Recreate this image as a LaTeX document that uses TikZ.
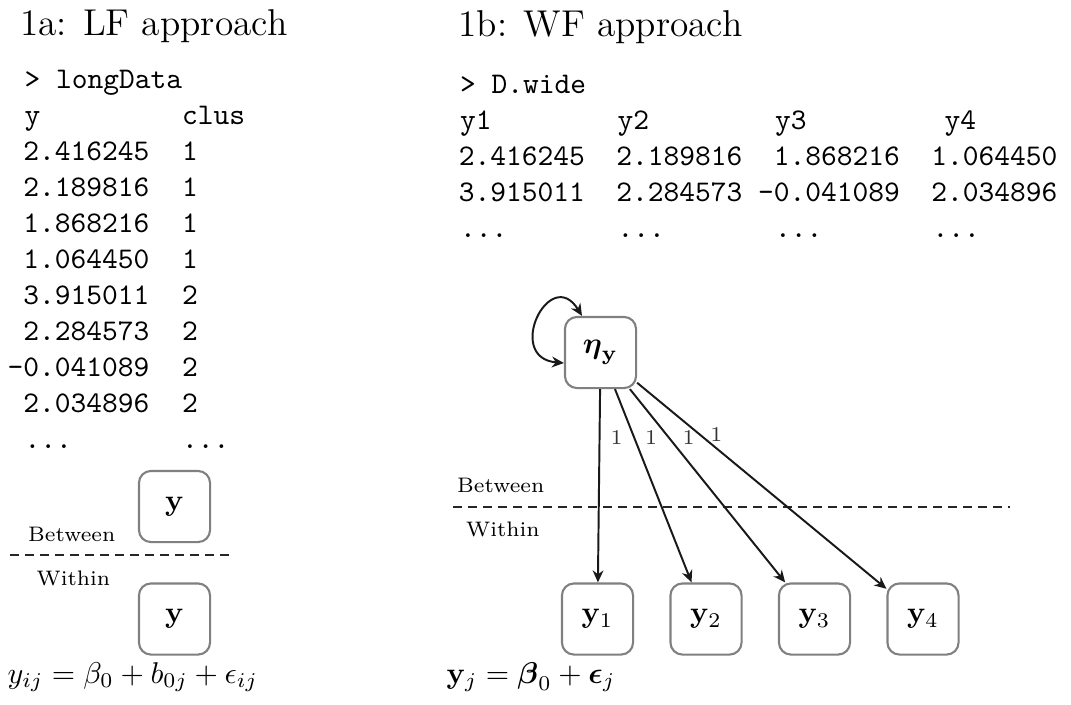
\documentclass[tikz,border=0pt]{standalone}
\usepackage{amsmath}
\usetikzlibrary{arrows.meta,calc}
\tikzset{
  box/.style={draw=black!50, line width=0.7pt, rounded corners=4pt, minimum width=23.7pt, minimum height=23.7pt, inner sep=0pt, fill=white},
  tt/.style={anchor=base west, inner sep=0pt, font=\ttfamily},
  ttr/.style={anchor=base east, inner sep=0pt, font=\ttfamily},
  ttitle/.style={anchor=base west, inner sep=0pt, font=\fontsize{12.45}{15}\selectfont},
  lev/.style={anchor=base west, inner sep=0pt, font=\scriptsize},
  conn/.style={line width=0.65pt, draw=black!90, -{Stealth[length=4pt,width=3.6pt]}},
  loopc/.style={line width=0.65pt, draw=black!90, {Stealth[length=4pt,width=3.6pt]}-{Stealth[length=4pt,width=3.6pt]}},
  lbl/.style={font=\scriptsize, text=black!80, anchor=west},
  sepline/.style={line width=0.55pt, draw=black!85, dash pattern=on 3pt off 2pt},
  eqn/.style={anchor=base west, inner sep=0pt}
}
\begin{document}
\begin{tikzpicture}[x=0.33333pt, y=-0.33333pt]
\fill[white] (0,0) rectangle (1071,704);
\useasboundingbox (0,0) rectangle (1071,704);

% titles
\node[ttitle] (t1) at (19.5,35) {1a: LF approach};
\node[ttitle] (t2) at (458,36) {1b: WF approach};

% left table
\node[tt] (lcmd) at (24,88) {> longData};
\node[tt] (lh1) at (24,124) {y};
\node[tt] (lh2) at (181.5,124) {clus};
\foreach \v/\c [count=\i] in {2.416245/1, 2.189816/1, 1.868216/1, 1.064450/1, 3.915011/2, 2.284573/2, -0.041089/2, 2.034896/2} {
  \node[ttr] (lv\i) at (150,124+36*\i) {\v};
  \node[tt] (lc\i) at (181.5,124+36*\i) {\c};
}
\node[tt] (ld1) at (24,448) {...};
\node[tt] (ld2) at (181.5,448) {...};

% right table
\node[tt] (rcmd) at (459.5,93) {> D.wide};
\node[tt] (rh1) at (459.5,129) {y1};
\node[tt] (rh2) at (617,129) {y2};
\node[tt] (rh3) at (774.5,129) {y3};
\node[tt] (rh4) at (944,129) {y4};
\foreach \a/\b/\c/\d [count=\i] in {2.416245/2.189816/1.868216/1.064450, 3.915011/2.284573/-0.041089/2.034896} {
  \node[ttr] (ra\i) at (585.5,129+36*\i) {\a};
  \node[ttr] (rb\i) at (743,129+36*\i) {\b};
  \node[ttr] (rc\i) at (900.5,129+36*\i) {\c};
  \node[ttr] (rd\i) at (1058,129+36*\i) {\d};
}
\node[tt] (rdd1) at (459.5,237) {...};
\node[tt] (rdd2) at (617,237) {...};
\node[tt] (rdd3) at (774.5,237) {...};
\node[tt] (rdd4) at (932,237) {...};

% left diagram
\node[box] (bY) at (174.5,506.5) {$\mathbf{y}$};
\node[box] (wY) at (174.5,619) {$\mathbf{y}$};
\node[lev] (lb) at (27.5,541) {Between};
\node[lev] (lw) at (36,585) {Within};
\coordinate (lsa) at (10,555);
\coordinate (lsb) at (230,555);
\draw[sepline] (lsa) -- (lsb);

% right diagram
\node[lev] (rbw) at (456.5,492) {Between};
\node[lev] (rwi) at (465.5,536) {Within};
\coordinate (rsa) at (453,507);
\coordinate (rsb) at (1010,507);
\draw[sepline] (rsa) -- (rsb);

\node[box] (eta) at (600.5,352.5) {$\boldsymbol{\eta}_{\mathbf{y}}$};
\node[box] (y1) at (597.5,619) {$\mathbf{y}_1$};
\node[box] (y2) at (706,619) {$\mathbf{y}_2$};
\node[box] (y3) at (814.5,619) {$\mathbf{y}_3$};
\node[box] (y4) at (923,619) {$\mathbf{y}_4$};

\draw[conn] (eta) -- node[lbl, pos=0.25] {1} (y1);
\draw[conn] (eta) -- node[lbl, pos=0.25] {1} (y2);
\draw[conn] (eta) -- node[lbl, pos=0.25, xshift=1pt] {1} (y3);
\draw[conn] (eta) -- node[lbl, pos=0.25] {1} (y4);

\coordinate (la) at ($(eta.west)+(0,10.5)$);
\coordinate (lt) at ($(eta.north)+(-18.5,0)$);
\draw[loopc] (la) .. controls +(-60,-5) and +(-32,-52) .. (lt);

% equations
\node[eqn] (eqL) at (7,683) {$y_{ij} = \beta_0 + b_{0j} + \epsilon_{ij}$};
\node[eqn] (eqR) at (446,683) {$\mathbf{y}_j = \boldsymbol{\beta}_0 + \boldsymbol{\epsilon}_j$};
\end{tikzpicture}
\end{document}
